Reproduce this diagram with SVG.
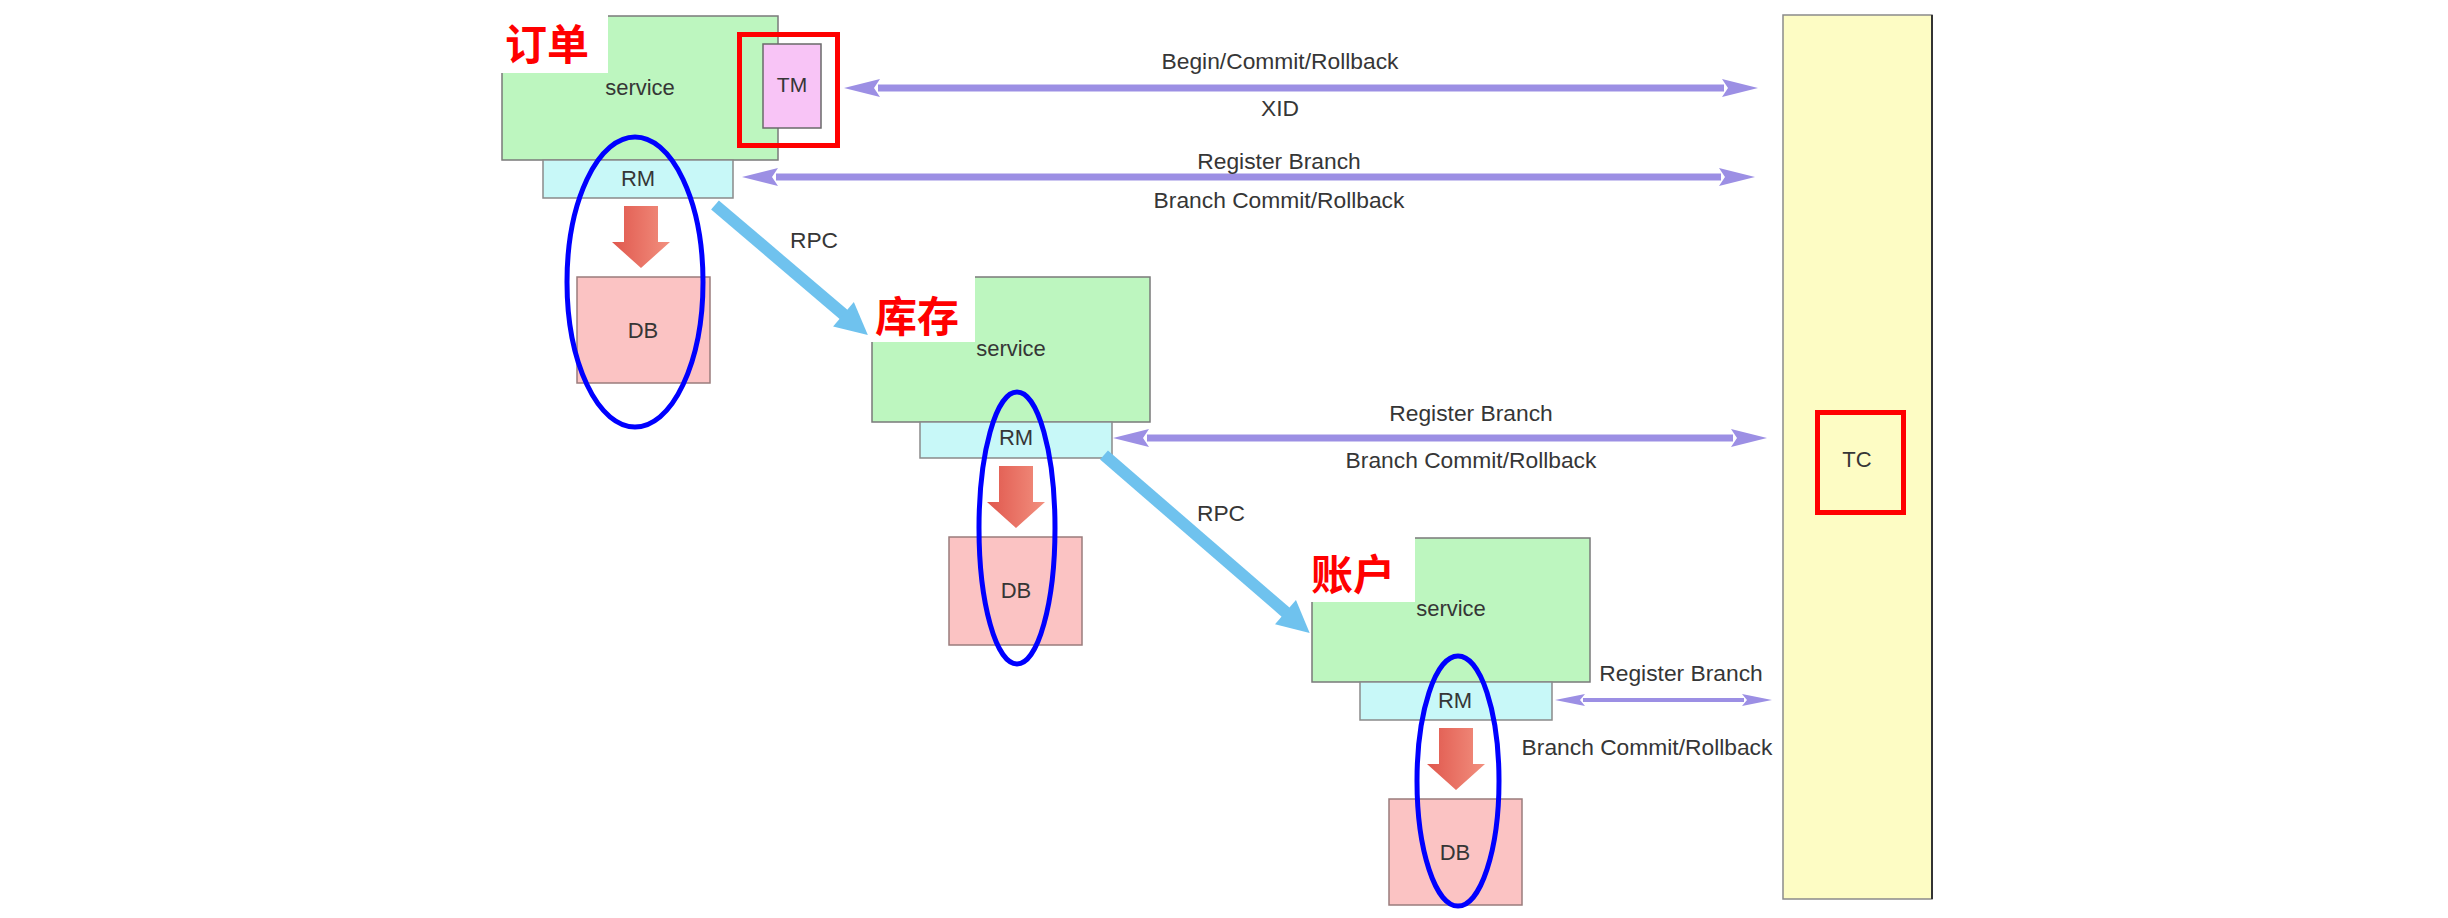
<svg xmlns="http://www.w3.org/2000/svg" width="2448" height="918" viewBox="0 0 2448 918">
  <style>
    .lbl { font-family: "Liberation Sans", Arial, sans-serif; font-size: 22px; fill: #363636; text-anchor: middle; }
    .edge { font-size: 22.8px; }
    .svc { fill: #bdf6bf; stroke: #7a7a7a; stroke-width: 1.5; }
    .rm { fill: #c8f8f8; stroke: #8a8a8a; stroke-width: 1.5; }
    .db { fill: #fbc3c3; stroke: #9a7c7c; stroke-width: 1.5; }
    .tm { fill: #f8c4f6; stroke: #6a6a6a; stroke-width: 1.5; }
    .tc { fill: #fdfcc4; stroke: #8a8a8a; stroke-width: 1.5; }
    .redbox { fill: none; stroke: #ff0000; stroke-width: 5; }
    .tagbg { fill: #ffffff; }
    .tag { font-family: "Noto Sans CJK SC", "Noto Sans", sans-serif; font-weight: bold; font-size: 42px; fill: #ff0000; }
    .oval { fill: none; stroke: #0000ff; stroke-width: 5; }
    .bus { stroke: #9c8fe4; stroke-width: 7; fill: none; }
    .bus.thin { stroke-width: 4; }
    .rpc { stroke: #6fc2ee; stroke-width: 12; fill: none; }
  </style>
  <defs>
    <marker id="busHead" markerUnits="userSpaceOnUse" orient="auto-start-reverse" refX="0" refY="0" overflow="visible" markerWidth="40" markerHeight="20">
      <path d="M-2,-9 L34,0 L-2,9 L4,0 Z" fill="#9c8fe4"/>
    </marker>
    <marker id="busHeadSmall" markerUnits="userSpaceOnUse" orient="auto-start-reverse" refX="0" refY="0" overflow="visible" markerWidth="32" markerHeight="14">
      <path d="M-2,-6 L28,0 L-2,6 L3,0 Z" fill="#9c8fe4"/>
    </marker>
    <marker id="rpcHead" markerUnits="userSpaceOnUse" orient="auto" refX="0" refY="0" overflow="visible" markerWidth="40" markerHeight="36">
      <path d="M-2,-16 L30,0 L-2,16 Z" fill="#6fc2ee"/>
    </marker>
    <linearGradient id="redGrad" x1="0" y1="0" x2="1" y2="0">
      <stop offset="0" stop-color="#e0574d"/>
      <stop offset="1" stop-color="#f2907f"/>
    </linearGradient>
    <path id="downArrow" d="M-17,0 H17 V36 H29 L0,62 L-29,36 H-17 Z" fill="url(#redGrad)"/>
  </defs>

  <rect x="0" y="0" width="2448" height="918" fill="#ffffff"/>

  <!-- TC column -->
  <g id="tc">
    <rect class="tc" x="1783" y="15" width="149" height="884"/>
    <line x1="1932" y1="15" x2="1932" y2="899" stroke="#333" stroke-width="2"/>
    <rect class="redbox" x="1817.5" y="412.5" width="86" height="100"/>
    <text class="lbl" x="1857" y="467">TC</text>
  </g>

  <!-- Order service (订单) -->
  <g id="order">
    <rect class="svc" x="502" y="16" width="276" height="144"/>
    <rect class="tagbg" x="501" y="15" width="107" height="58"/>
    <text class="tag" x="505" y="60">订单</text>
    <text class="lbl" x="640" y="95">service</text>
    <rect class="tm" x="763" y="44" width="58" height="84"/>
    <text class="lbl" x="792" y="92" style="font-size:21px">TM</text>
    <rect class="redbox" x="739.5" y="34.5" width="98" height="111"/>
  </g>
  <g id="order-rm">
    <rect class="rm" x="543" y="160" width="190" height="38"/>
    <text class="lbl" x="638" y="186">RM</text>
  </g>
  <g id="order-db">
    <rect class="db" x="577" y="277" width="133" height="106"/>
    <text class="lbl" x="643" y="338">DB</text>
  </g>

  <!-- Inventory service (库存) -->
  <g id="inventory">
    <rect class="svc" x="872" y="277" width="278" height="145"/>
    <rect class="tagbg" x="871" y="275" width="104" height="67"/>
    <text class="tag" x="875" y="332">库存</text>
    <text class="lbl" x="1011" y="356">service</text>
  </g>
  <g id="inventory-rm">
    <rect class="rm" x="920" y="422" width="192" height="36"/>
    <text class="lbl" x="1016" y="445">RM</text>
  </g>
  <g id="inventory-db">
    <rect class="db" x="949" y="537" width="133" height="108"/>
    <text class="lbl" x="1016" y="598">DB</text>
  </g>

  <!-- Account service (账户) -->
  <g id="account">
    <rect class="svc" x="1312" y="538" width="278" height="144"/>
    <rect class="tagbg" x="1310" y="532" width="105" height="70"/>
    <text class="tag" x="1311" y="590">账户</text>
    <text class="lbl" x="1451" y="616">service</text>
  </g>
  <g id="account-rm">
    <rect class="rm" x="1360" y="682" width="192" height="38"/>
    <text class="lbl" x="1455" y="708">RM</text>
  </g>
  <g id="account-db">
    <rect class="db" x="1389" y="799" width="133" height="106"/>
    <text class="lbl" x="1455" y="860">DB</text>
  </g>

  <!-- connectors -->
  <g id="connectors">
    <!-- TM <-> TC -->
    <line class="bus" x1="878" y1="88" x2="1724" y2="88" marker-start="url(#busHead)" marker-end="url(#busHead)"/>
    <text class="lbl edge" x="1280" y="69">Begin/Commit/Rollback</text>
    <text class="lbl edge" x="1280" y="116">XID</text>
    <!-- order RM <-> TC -->
    <line class="bus" x1="776" y1="177" x2="1721" y2="177" marker-start="url(#busHead)" marker-end="url(#busHead)"/>
    <text class="lbl edge" x="1279" y="169">Register Branch</text>
    <text class="lbl edge" x="1279" y="208">Branch Commit/Rollback</text>
    <!-- inventory RM <-> TC -->
    <line class="bus" x1="1147" y1="438" x2="1733" y2="438" marker-start="url(#busHead)" marker-end="url(#busHead)"/>
    <text class="lbl edge" x="1471" y="421">Register Branch</text>
    <text class="lbl edge" x="1471" y="468">Branch Commit/Rollback</text>
    <!-- account RM <-> TC -->
    <line class="bus thin" x1="1583" y1="700" x2="1744" y2="700" marker-start="url(#busHeadSmall)" marker-end="url(#busHeadSmall)"/>
    <text class="lbl edge" x="1681" y="681">Register Branch</text>
    <text class="lbl edge" x="1647" y="755">Branch Commit/Rollback</text>
    <!-- RPC calls -->
    <line class="rpc" x1="715" y1="205" x2="845" y2="315.6" marker-end="url(#rpcHead)"/>
    <text class="lbl edge" x="814" y="248">RPC</text>
    <line class="rpc" x1="1104" y1="455" x2="1287" y2="613.4" marker-end="url(#rpcHead)"/>
    <text class="lbl edge" x="1221" y="521">RPC</text>
    <!-- RM -> DB -->
    <use href="#downArrow" x="641" y="206"/>
    <use href="#downArrow" x="1016" y="466"/>
    <use href="#downArrow" x="1456" y="728"/>
  </g>

  <!-- highlight ovals -->
  <g id="highlights">
    <ellipse class="oval" cx="635" cy="282" rx="68" ry="145"/>
    <ellipse class="oval" cx="1017" cy="528" rx="38" ry="136"/>
    <ellipse class="oval" cx="1458" cy="781" rx="41" ry="125"/>
  </g>
</svg>
